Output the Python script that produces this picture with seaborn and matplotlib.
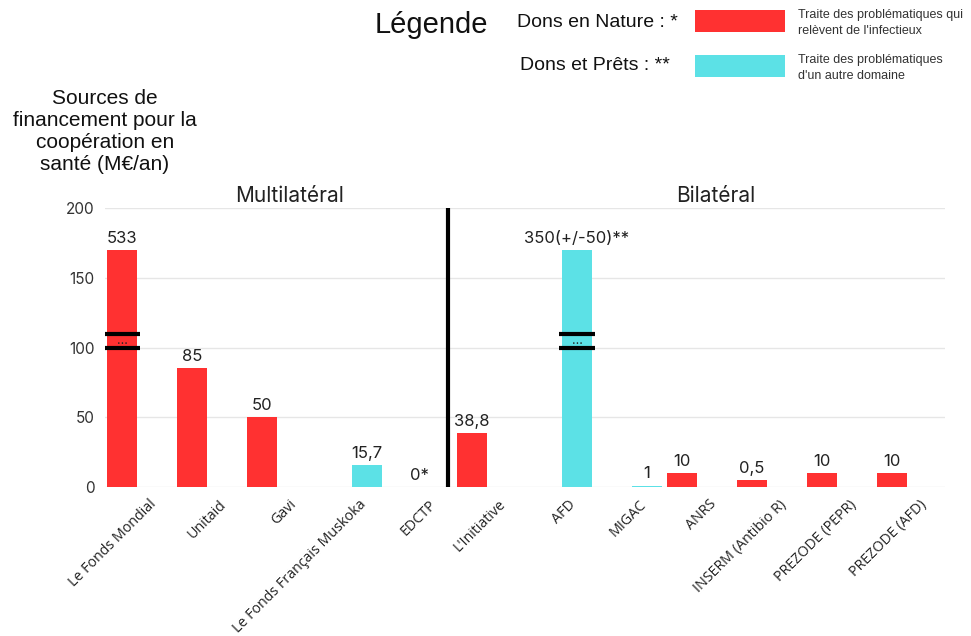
import matplotlib
matplotlib.use("Agg")
import matplotlib.pyplot as plt
import matplotlib.transforms as mtransforms
import seaborn as sns
import pandas as pd

# ---------------- data ----------------
sources = ["Le Fonds Mondial", "Unitaid", "Gavi", "Le Fonds Français Muskoka", "EDCTP",
           "L'Initiative", "AFD", "MIGAC", "ANRS", "INSERM (Antibio R)",
           "PREZODE (PEPR)", "PREZODE (AFD)"]
drawn_heights = [170, 85, 50, 15.7, 0, 38.8, 170, 1, 10, 5, 10, 10]
true_values = [533, 85, 50, 15.7, 0, 38.8, 350, 1, 10, 0.5, 10, 10]
value_labels = ["533", "85", "50", "15,7", "0*", "38,8", "350(+/-50)**",
                "1", "10", "0,5", "10", "10"]
domains = ["infectieux", "infectieux", "infectieux", "autre", "infectieux",
           "infectieux", "autre", "autre", "infectieux", "infectieux",
           "infectieux", "infectieux"]
domain_levels = ["infectieux", "autre"]
y_ticks = [0, 50, 100, 150, 200]
group_titles = ["Multilatéral", "Bilatéral"]
legend_kinds = ["Dons en Nature : *", "Dons et Prêts : **"]
legend_domains = ["Traite des problématiques qui\nrelèvent de l'infectieux",
                  "Traite des problématiques\nd'un autre domaine"]
y_title = "Sources de\nfinancement pour la\ncoopération en\nsanté (M€/an)"

RED = "#ff3131"
CYAN = "#5ce1e6"
palette = {"infectieux": RED, "autre": CYAN}

df = pd.DataFrame({"source": sources, "height": drawn_heights, "domain": domains})

# ---------------- figure ----------------
sns.set_theme(style="whitegrid")
plt.rcParams["font.family"] = ["Inter", "DejaVu Sans"]

fig = plt.figure(figsize=(9.71, 6.36), dpi=100)
ax = fig.add_axes([104.5 / 971, 149 / 636, 840 / 971, 279 / 636])

sns.barplot(data=df, x="source", y="height", hue="domain", order=sources,
            hue_order=domain_levels, palette=palette, dodge=True, width=1.0,
            gap=0.12, saturation=1, linewidth=0, legend=False, ax=ax)

ax.set_ylim(0, 200)
ax.set_xlim(-0.5, len(sources) - 0.5)
ax.set_yticks(y_ticks)
ax.set_xlabel("")
ax.set_ylabel("")
ax.grid(axis="y", color="#e6e6e6", linewidth=1)
ax.grid(axis="x", visible=False)
for s in ax.spines.values():
    s.set_visible(False)
ax.tick_params(axis="y", length=0, pad=7, labelsize=11, labelcolor="#333333")
ax.tick_params(axis="x", length=0, pad=0)

ax.set_xticks(range(len(sources)))
ax.set_xticklabels(sources, rotation=45, ha="right", va="top",
                   rotation_mode="anchor", fontsize=10.3, color="#222222",
                   fontfamily=["Open Sans", "DejaVu Sans"])
offset = mtransforms.ScaledTranslation(0.09, -0.10, fig.dpi_scale_trans)
for lab in ax.get_xticklabels():
    lab.set_transform(lab.get_transform() + offset)

# value labels + axis-break marks
for p in ax.patches:
    cx = p.get_x() + p.get_width() / 2
    idx = int(round(cx))
    if idx < 0 or idx >= len(sources):
        continue
    h = p.get_height()
    x_lab = cx if h > 0 else idx
    ax.annotate(value_labels[idx], (x_lab, h), xytext=(0, 3),
                textcoords="offset points", ha="center", va="bottom",
                fontsize=12, color="#222222")
    if true_values[idx] > ax.get_ylim()[1]:
        x0 = p.get_x() - 0.04
        x1 = p.get_x() + p.get_width() + 0.04
        ax.hlines([100, 109.5], x0, x1, colors="black", linewidth=3, zorder=5)
        ax.text(cx, 104.8, "...", ha="center", va="center", fontsize=9,
                color="#222222", zorder=6)

# separator between multilateral and bilateral
ax.axvline(4.41, ymin=0, ymax=1, color="black", linewidth=3, zorder=4)

# group titles
fig.text(290 / 971, 1 - 202 / 636, group_titles[0], ha="center", va="baseline",
         fontsize=15, color="#222222")
fig.text(716 / 971, 1 - 202 / 636, group_titles[1], ha="center", va="baseline",
         fontsize=15, color="#222222")

# y-axis title
fig.text(105 / 971, 1 - 131 / 636, y_title, ha="center", va="center",
         fontsize=15, linespacing=1.2, color="#111111",
         fontfamily=["Liberation Sans", "DejaVu Sans"])

# legend block
fig.text(375 / 971, 1 - 33 / 636, "Légende", ha="left", va="baseline",
         fontsize=21, color="#111111", fontfamily=["Liberation Sans", "DejaVu Sans"])
fig.text(517 / 971, 1 - 27 / 636, legend_kinds[0], ha="left", va="baseline",
         fontsize=14, color="#111111", fontfamily=["Liberation Sans", "DejaVu Sans"])
fig.text(520 / 971, 1 - 70 / 636, legend_kinds[1], ha="left", va="baseline",
         fontsize=14, color="#111111", fontfamily=["Liberation Sans", "DejaVu Sans"])
for i, (col, txt) in enumerate(zip([RED, CYAN], legend_domains)):
    top = 10 + i * 45
    fig.patches.append(plt.Rectangle((695 / 971, 1 - (top + 22) / 636), 90 / 971, 22 / 636,
                                     transform=fig.transFigure, facecolor=col,
                                     edgecolor="none"))
    fig.text(798 / 971, 1 - (top - 1) / 636, txt, ha="left", va="top",
             fontsize=9, linespacing=1.4, color="#333333",
             fontfamily=["Liberation Sans", "DejaVu Sans"])

fig.savefig("out.png", dpi=100)
